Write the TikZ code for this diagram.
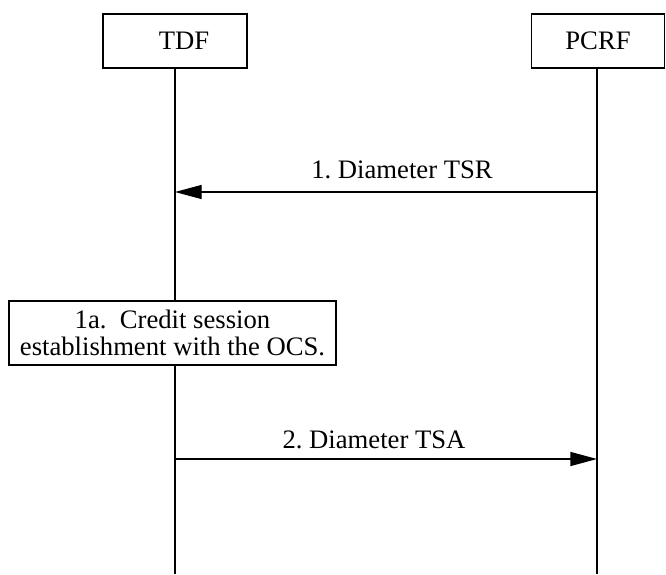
\documentclass[tikz,border=0pt]{standalone}
\usepackage{fontspec}
\setmainfont{Liberation Serif}
\usetikzlibrary{arrows.meta}

\tikzset{
	entity/.style={draw=black,line width=1pt,fill=white,minimum height=40.5pt,inner sep=0pt},
	lifeline/.style={line width=1pt},
	msg/.style={-{Triangle[length=20pt,width=10.5pt]},line width=1pt},
}

\begin{document}
\begin{tikzpicture}[x=0.75pt,y=-0.75pt,font=\fontsize{20}{20}\selectfont\frenchspacing]

\useasboundingbox (0,0) rectangle (666,574);

%entities
\node[entity,minimum width=108pt](tdf) at (175,41){\hspace*{13.5pt}TDF};
\node[entity,minimum width=100pt](pcrf) at (598,41){PCRF};

\coordinate (tdf-end) at (175,574);
\coordinate (pcrf-end) at (597,574);

\foreach \n in {tdf,pcrf}
{
	\draw[lifeline](\n.south -| \n-end)--(\n-end);
}

%1. request from the PCRF
\coordinate (tsr-from) at (597,192);
\coordinate (tsr-to) at (175,192);
\draw[msg](tsr-from)--(tsr-to);
\node[anchor=base](tsr-label) at (402,178){1. Diameter TSR};

%1a. local step at the TDF
\node[entity,minimum width=245.25pt,minimum height=48pt,align=center](credit) at (172.5,333){1a.~ Credit session\\establishment with the OCS.};

%2. answer back to the PCRF
\coordinate (tsa-from) at (175,459);
\coordinate (tsa-to) at (597,459);
\draw[msg](tsa-from)--(tsa-to);
\node[anchor=base](tsa-label) at (374,448){2. Diameter TSA};

\end{tikzpicture}
\end{document}
